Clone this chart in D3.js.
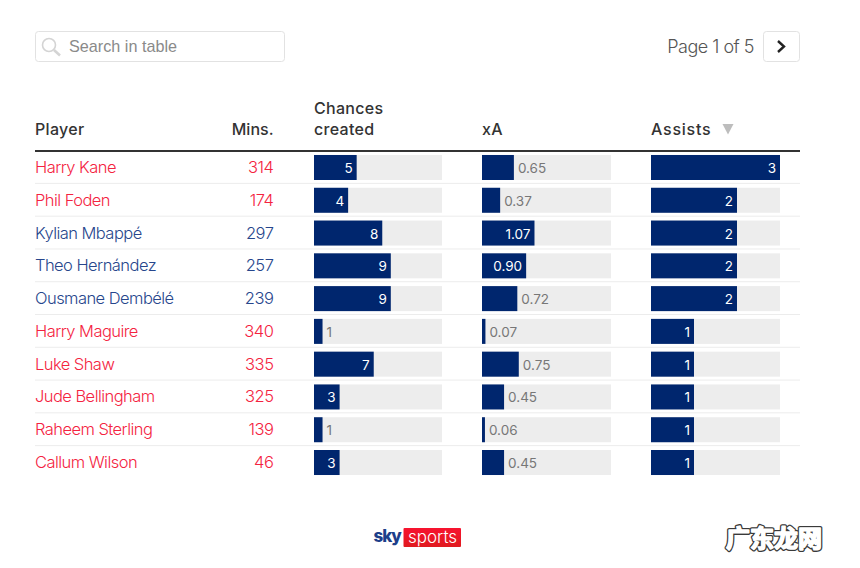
<!DOCTYPE html>
<html>
<head>
<meta charset="utf-8">
<script src="https://d3js.org/d3.v7.min.js"></script>
<style>
  html, body { margin: 0; padding: 0; background: #fff; }
  svg { display: block; }
  text { font-family: "Inter", sans-serif; }
</style>
</head>
<body>
<div id="vis"></div>
<script>
// setting constants
const FRAME_WIDTH = 860;
const FRAME_HEIGHT = 568;

// table data
const players = ["Harry Kane", "Phil Foden", "Kylian Mbappé", "Theo Hernández", "Ousmane Dembélé",
	"Harry Maguire", "Luke Shaw", "Jude Bellingham", "Raheem Sterling", "Callum Wilson"];
const teams = ["ENG", "ENG", "FRA", "FRA", "FRA", "ENG", "ENG", "ENG", "ENG", "ENG"];
const mins = [314, 174, 297, 257, 239, 340, 335, 325, 139, 46];
const chances = [5, 4, 8, 9, 9, 1, 7, 3, 1, 3];
const xA = [0.65, 0.37, 1.07, 0.90, 0.72, 0.07, 0.75, 0.45, 0.06, 0.45];
const assists = [3, 2, 2, 2, 2, 1, 1, 1, 1, 1];

const NAVY = "#00266e";
const TRACK = "#ededed";
const INK = "#333333";

const FRAME = d3.select("#vis")
	.append("svg")
	.attr("width", FRAME_WIDTH)
	.attr("height", FRAME_HEIGHT);

// row scale
const Y_SCALE = d3.scaleBand()
	.domain(players)
	.range([151.1, 478.9])
	.paddingInner(0.237)
	.paddingOuter(0.1185);

const TEAM_COLOR = d3.scaleOrdinal()
	.domain(["ENG", "FRA"])
	.range(["#f4233f", "#27468c"]);

// search box
FRAME.append("rect")
	.attr("x", 35.5).attr("y", 31.5)
	.attr("width", 249).attr("height", 30).attr("rx", 3)
	.attr("fill", "#fff").attr("stroke", "#e2e2e2");
FRAME.append("circle")
	.attr("cx", 49).attr("cy", 45).attr("r", 6.5)
	.attr("fill", "none").attr("stroke", "#d4d4d4").attr("stroke-width", 1.6);
FRAME.append("line")
	.attr("x1", 54).attr("y1", 50).attr("x2", 60).attr("y2", 55.5)
	.attr("stroke", "#d4d4d4").attr("stroke-width", 2.6);
FRAME.append("text")
	.attr("x", 69).attr("y", 52)
	.attr("fill", "#8a8a8a")
	.style("font-family", "Liberation Sans")
	.style("font-size", "16.2px")
	.text("Search in table");

// pager
FRAME.append("text")
	.attr("x", 754).attr("y", 53)
	.attr("text-anchor", "end")
	.attr("fill", "#555")
	.style("font-size", "18px")
	.style("font-weight", 300)
	.style("letter-spacing", "-0.5px")
	.text("Page 1 of 5");
FRAME.append("rect")
	.attr("x", 763.5).attr("y", 31.5)
	.attr("width", 36).attr("height", 30).attr("rx", 3)
	.attr("fill", "#fff").attr("stroke", "#e2e2e2");
FRAME.append("path")
	.attr("d", "M778 41 L784 46.5 L778 52")
	.attr("fill", "none").attr("stroke", "#222").attr("stroke-width", 2.4);

// headers
const HEAD_STYLE = (sel) => sel
	.attr("fill", INK)
	.style("font-size", "16px")
	.style("font-weight", 500)
	.style("letter-spacing", "0.3px");

FRAME.append("text").attr("x", 35).attr("y", 135).call(HEAD_STYLE).text("Player");
FRAME.append("text").attr("x", 273.5).attr("y", 135).attr("text-anchor", "end").call(HEAD_STYLE)
	.style("letter-spacing", "0px").text("Mins.");
FRAME.append("text").attr("x", 314).attr("y", 114).call(HEAD_STYLE).text("Chances");
FRAME.append("text").attr("x", 314).attr("y", 135).call(HEAD_STYLE).text("created");
FRAME.append("text").attr("x", 482).attr("y", 135).call(HEAD_STYLE).text("xA");
FRAME.append("text").attr("x", 651).attr("y", 135).call(HEAD_STYLE)
	.style("letter-spacing", "0.75px").text("Assists");
FRAME.append("path")
	.attr("d", "M722.5 124 L733.5 124 L728 134.5 Z")
	.attr("fill", "#bdbdbd");

FRAME.append("line")
	.attr("x1", 35).attr("x2", 800).attr("y1", 151).attr("y2", 151)
	.attr("stroke", INK).attr("stroke-width", 2);

// row separators
FRAME.selectAll(".sep")
	.data(players.slice(0, -1))
	.enter()
	.append("line")
	.attr("class", "sep")
	.attr("x1", 35).attr("x2", 800)
	.attr("y1", (d) => Y_SCALE(d) + Y_SCALE.bandwidth() + 3.4)
	.attr("y2", (d) => Y_SCALE(d) + Y_SCALE.bandwidth() + 3.4)
	.attr("stroke", "#ececec");

// player names and minutes
FRAME.selectAll(".name")
	.data(players)
	.enter()
	.append("text")
	.attr("class", "name")
	.attr("x", 35)
	.attr("y", (d) => Y_SCALE(d) + 18)
	.attr("fill", (d, i) => TEAM_COLOR(teams[i]))
	.style("font-size", "16.5px")
	.style("font-weight", 300)
	.style("letter-spacing", "-0.55px")
	.text((d) => d);

FRAME.selectAll(".mins")
	.data(mins)
	.enter()
	.append("text")
	.attr("class", "mins")
	.attr("x", 273.5)
	.attr("y", (d, i) => Y_SCALE(players[i]) + 18)
	.attr("text-anchor", "end")
	.attr("fill", (d, i) => TEAM_COLOR(teams[i]))
	.style("font-size", "16.5px")
	.style("font-weight", 300)
	.style("letter-spacing", "-0.45px")
	.text((d) => d);

// bar columns
function barColumn(values, domain, range, minInside, format) {
	const xScale = d3.scaleLinear().domain(domain).range(range);
	const g = FRAME.append("g");

	g.selectAll(".track")
		.data(values)
		.enter()
		.append("rect")
		.attr("x", range[0])
		.attr("y", (d, i) => Y_SCALE(players[i]))
		.attr("width", range[1] - range[0])
		.attr("height", Y_SCALE.bandwidth())
		.attr("fill", TRACK);

	g.selectAll(".bar")
		.data(values)
		.enter()
		.append("rect")
		.attr("x", range[0])
		.attr("y", (d, i) => Y_SCALE(players[i]))
		.attr("width", (d) => xScale(d) - range[0])
		.attr("height", Y_SCALE.bandwidth())
		.attr("fill", NAVY);

	g.selectAll(".val")
		.data(values)
		.enter()
		.append("text")
		.attr("x", (d) => d >= minInside ? xScale(d) - 4 : xScale(d) + 4)
		.attr("y", (d, i) => Y_SCALE(players[i]) + 18)
		.attr("text-anchor", (d) => d >= minInside ? "end" : "start")
		.attr("fill", (d) => d >= minInside ? "#fff" : "#777")
		.style("font-size", "13.5px")
		.style("font-weight", 400)
		.text(format);
}

barColumn(chances, [0, 15], [314, 442], 2, (d) => d);
barColumn(xA, [0, 2.63], [482, 611], 0.8, d3.format(".2f"));
barColumn(assists, [0, 3], [651, 780], 0, (d) => d);

// sky sports logo
const LOGO_RED = FRAME.append("defs")
	.append("linearGradient")
	.attr("id", "logoRed")
	.attr("x1", 0).attr("x2", 0).attr("y1", 0).attr("y2", 1);
LOGO_RED.append("stop").attr("offset", "0%").attr("stop-color", "#f7132f");
LOGO_RED.append("stop").attr("offset", "100%").attr("stop-color", "#e01a1f");

FRAME.append("text")
	.attr("x", 373.5).attr("y", 542)
	.attr("fill", "#1d3f8a")
	.style("font-size", "17px")
	.style("font-weight", 800)
	.style("letter-spacing", "-1.1px")
	.text("sky");
FRAME.append("rect")
	.attr("x", 403.5).attr("y", 528)
	.attr("width", 57.5).attr("height", 19).attr("rx", 1)
	.attr("fill", "url(#logoRed)");
FRAME.append("text")
	.attr("x", 432.5).attr("y", 543)
	.attr("text-anchor", "middle")
	.attr("fill", "#fff")
	.style("font-size", "17px")
	.style("font-weight", 300)
	.text("sports");

// watermark, outlined letters
[["#3a3a3a", 4.2], ["#ffffff", 1.6]].forEach(([color, width]) => {
	FRAME.append("text")
		.attr("x", 774).attr("y", 547)
		.attr("text-anchor", "middle")
		.attr("fill", color)
		.attr("stroke", color)
		.attr("stroke-width", width)
		.attr("stroke-linejoin", "round")
		.style("font-family", "Noto Sans CJK SC")
		.style("font-size", "24px")
		.style("font-weight", 700)
		.text("广东龙网");
});
</script>
</body>
</html>
